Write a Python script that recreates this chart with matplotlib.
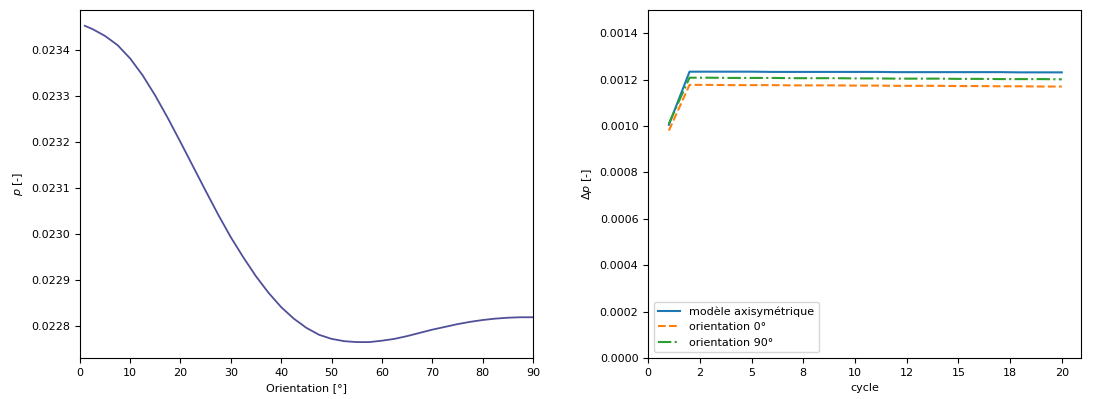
import matplotlib
matplotlib.use('Agg')
import matplotlib.pyplot as plt
from matplotlib.ticker import FormatStrFormatter

# left panel: p as a function of orientation
orientation = [1, 2.5, 5, 7.5, 10, 12.5, 15, 17.5, 20, 22.5, 25, 27.5, 30,
               32.5, 35, 37.5, 40, 42.5, 45, 47.5, 50, 52.5, 55, 57.5, 60,
               62.5, 65, 67.5, 70, 72.5, 75, 77.5, 80, 82.5, 85, 87.5, 90]
p_values = [0.023452, 0.023445, 0.023430, 0.023410, 0.023381, 0.023344,
            0.023300, 0.023251, 0.023199, 0.023146, 0.023093, 0.023041,
            0.022992, 0.022948, 0.022907, 0.022871, 0.022840, 0.022815,
            0.022795, 0.022780, 0.022771, 0.022766, 0.022764, 0.022764,
            0.022767, 0.022771, 0.022777, 0.022784, 0.022791, 0.022797,
            0.022803, 0.022808, 0.022812, 0.022815, 0.022817, 0.022818,
            0.022818]

# right panel: delta p per cycle
cycles = list(range(1, 21))
dp_axi = [0.001005] + [0.001234, 0.001234, 0.001234, 0.001234, 0.001233,
                       0.001233, 0.001233, 0.001233, 0.001233, 0.001233,
                       0.001232, 0.001232, 0.001232, 0.001232, 0.001232,
                       0.001232, 0.001231, 0.001231, 0.001231]
dp_0 = [0.000980] + [0.001177, 0.001177, 0.001176, 0.001176, 0.001176,
                     0.001175, 0.001175, 0.001175, 0.001174, 0.001174,
                     0.001173, 0.001173, 0.001173, 0.001172, 0.001172,
                     0.001171, 0.001171, 0.001170, 0.001170]
dp_90 = [0.001010] + [0.001208, 0.001208, 0.001207, 0.001207, 0.001207,
                      0.001206, 0.001206, 0.001206, 0.001205, 0.001205,
                      0.001204, 0.001204, 0.001204, 0.001203, 0.001203,
                      0.001202, 0.001202, 0.001202, 0.001201]

plt.rcParams['font.size'] = 8

fig = plt.figure(figsize=(11.08, 3.99), dpi=100)
ax1 = fig.add_axes([0.072, 0.103, 0.409, 0.872])
ax2 = fig.add_axes([0.585, 0.103, 0.391, 0.872])

ax1.plot(orientation, p_values, color='#50509a', linewidth=1.3)
ax1.set_xlim(0, 90)
ax1.set_xlabel('Orientation [°]')
ax1.set_ylabel(r'$p$ [-]')

ax2.plot(cycles, dp_axi, '-', color='#1f77b4', label='modèle axisymétrique')
ax2.plot(cycles, dp_0, '--', color='#ff7f0e', label='orientation 0°')
ax2.plot(cycles, dp_90, '-.', color='#2ca02c', label='orientation 90°')
ax2.set_xlim(left=0)
ax2.set_ylim(0, 0.0015)
ax2.set_yticks([0, 0.0002, 0.0004, 0.0006, 0.0008, 0.0010, 0.0012, 0.0014])
ax2.xaxis.set_major_formatter(FormatStrFormatter('%.0f'))
ax2.yaxis.set_major_formatter(FormatStrFormatter('%.4f'))
ax2.set_xlabel('cycle')
ax2.set_ylabel(r'$\Delta p$ [-]')
ax2.legend(loc='lower left')

fig.savefig('out.png', dpi=100)
